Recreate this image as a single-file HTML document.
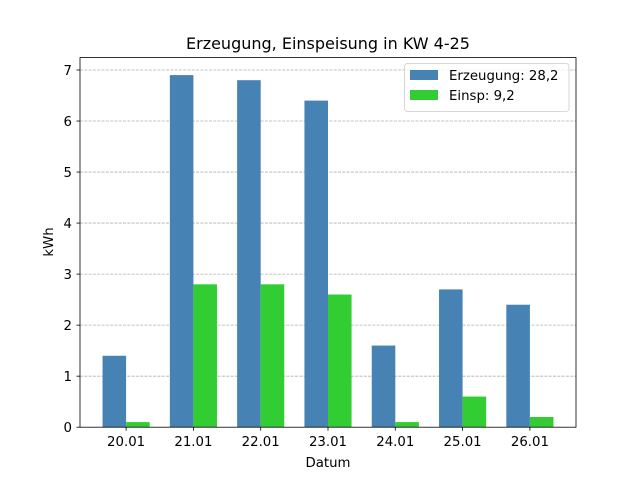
<!DOCTYPE html>
<html><head><style>body{margin:0;background:#fff}svg{display:block}text{font-family:"DejaVu Sans","Liberation Sans",sans-serif;fill:#000}</style></head>
<body>
<svg width="640" height="480" viewBox="0 0 640 480" xmlns="http://www.w3.org/2000/svg">
<rect width="640" height="480" fill="#fff"/>
<g stroke="#b0b0b0" stroke-width="0.8" stroke-dasharray="3,1.3">
<line x1="80" x2="576" y1="376.17" y2="376.17"/>
<line x1="80" x2="576" y1="325.14" y2="325.14"/>
<line x1="80" x2="576" y1="274.11" y2="274.11"/>
<line x1="80" x2="576" y1="223.08" y2="223.08"/>
<line x1="80" x2="576" y1="172.05" y2="172.05"/>
<line x1="80" x2="576" y1="121.02" y2="121.02"/>
<line x1="80" x2="576" y1="69.99" y2="69.99"/>
</g>
<g transform="translate(0,427.2) scale(1,-51.03)">
<g fill="#4682b4">
<rect x="102.54" y="0" width="23.56" height="1.4"/>
<rect x="169.84" y="0" width="23.56" height="6.9"/>
<rect x="237.14" y="0" width="23.56" height="6.8"/>
<rect x="304.44" y="0" width="23.56" height="6.4"/>
<rect x="371.74" y="0" width="23.56" height="1.6"/>
<rect x="439.04" y="0" width="23.56" height="2.7"/>
<rect x="506.34" y="0" width="23.56" height="2.4"/>
</g>
<g fill="#32cd32">
<rect x="126.1" y="0" width="23.56" height="0.1"/>
<rect x="193.4" y="0" width="23.56" height="2.8"/>
<rect x="260.7" y="0" width="23.56" height="2.8"/>
<rect x="328.0" y="0" width="23.56" height="2.6"/>
<rect x="395.3" y="0" width="23.56" height="0.1"/>
<rect x="462.6" y="0" width="23.56" height="0.6"/>
<rect x="529.9" y="0" width="23.56" height="0.2"/>
</g>
</g>
<rect x="80" y="57.6" width="496" height="369.6" fill="none" stroke="#000" stroke-width="0.8"/>
<g stroke="#000" stroke-width="0.8">
<line x1="76.5" x2="80" y1="427.2" y2="427.2"/><line x1="76.5" x2="80" y1="376.17" y2="376.17"/><line x1="76.5" x2="80" y1="325.14" y2="325.14"/><line x1="76.5" x2="80" y1="274.11" y2="274.11"/><line x1="76.5" x2="80" y1="223.08" y2="223.08"/><line x1="76.5" x2="80" y1="172.05" y2="172.05"/><line x1="76.5" x2="80" y1="121.02" y2="121.02"/><line x1="76.5" x2="80" y1="69.99" y2="69.99"/>
<line x1="126.1" x2="126.1" y1="427.2" y2="430.7"/><line x1="193.4" x2="193.4" y1="427.2" y2="430.7"/><line x1="260.7" x2="260.7" y1="427.2" y2="430.7"/><line x1="328" x2="328" y1="427.2" y2="430.7"/><line x1="395.3" x2="395.3" y1="427.2" y2="430.7"/><line x1="462.6" x2="462.6" y1="427.2" y2="430.7"/><line x1="529.9" x2="529.9" y1="427.2" y2="430.7"/>
</g>
<g font-size="13.3" text-anchor="end">
<text x="72" y="432">0</text><text x="72" y="381">1</text><text x="72" y="330">2</text><text x="72" y="279">3</text><text x="72" y="228">4</text><text x="72" y="177">5</text><text x="72" y="126">6</text><text x="72" y="75">7</text>
</g>
<g font-size="13.3" text-anchor="middle">
<text x="126.1" y="446">20.01</text><text x="193.4" y="446">21.01</text><text x="260.7" y="446">22.01</text><text x="328" y="446">23.01</text><text x="395.3" y="446">24.01</text><text x="462.6" y="446">25.01</text><text x="529.9" y="446">26.01</text>
<text x="328" y="467">Datum</text>
<text x="328" y="49" font-size="16">Erzeugung, Einspeisung in KW 4-25</text>
</g>
<text font-size="13.3" text-anchor="middle" transform="translate(53,242) rotate(-90)">kWh</text>
<rect x="404.5" y="63.5" width="164.5" height="48" rx="3" fill="#fff" fill-opacity="0.8" stroke="#ccc" stroke-width="0.8"/>
<rect x="410" y="70" width="28" height="10" fill="#4682b4"/>
<rect x="410" y="90" width="28" height="10" fill="#32cd32"/>
<text x="449" y="80" font-size="13.3">Erzeugung: 28,2</text>
<text x="449" y="100" font-size="13.3">Einsp: 9,2</text>
</svg>
</body></html>
